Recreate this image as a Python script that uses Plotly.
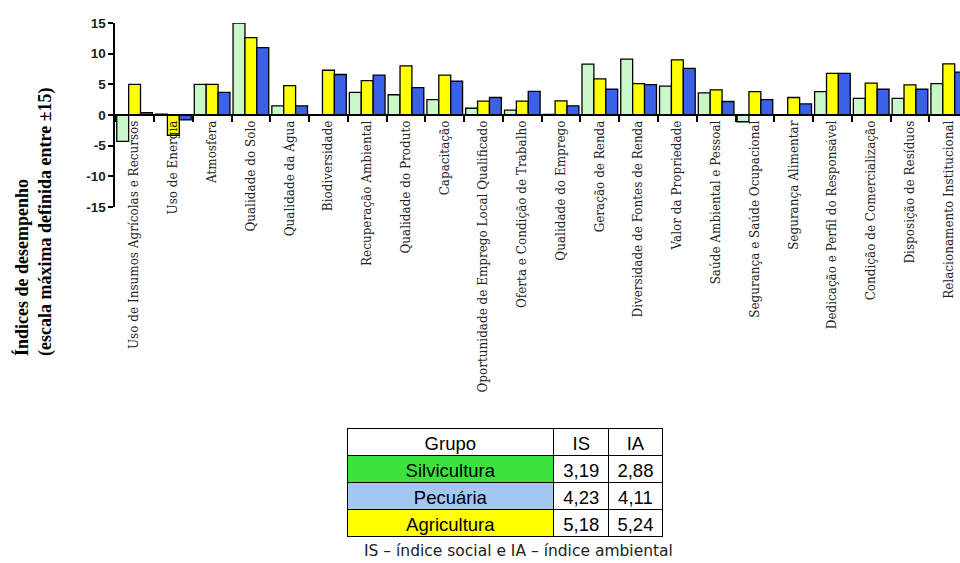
import plotly.graph_objects as go

categories = [
    "Uso de Insumos Agrícolas e Recursos",
    "Uso de Energia",
    "Atmosfera",
    "Qualidade do Solo",
    "Qualidade da Água",
    "Biodiversidade",
    "Recuperação Ambiental",
    "Qualidade do Produto",
    "Capacitação",
    "Oportunidade de Emprego Local Qualificado",
    "Oferta e Condição de Trabalho",
    "Qualidade do Emprego",
    "Geração de Renda",
    "Diversidade de Fontes de Renda",
    "Valor da Propriedade",
    "Saúde Ambiental e Pessoal",
    "Segurança e Saúde Ocupacional",
    "Segurança Alimentar",
    "Dedicação e Perfil do Responsável",
    "Condição de Comercialização",
    "Disposição de Resíduos",
    "Relacionamento Institucional",
]

silvicultura = [-4.3, 0.15, 5.0, 15.0, 1.5, 0.0, 3.7, 3.3, 2.5, 1.1, 0.8, 0.1, 8.3, 9.1,
                4.7, 3.6, -1.1, 0.0, 3.8, 2.7, 2.7, 5.1]
agricultura = [5.0, -3.3, 5.0, 12.6, 4.8, 7.3, 5.6, 8.0, 6.5, 2.25, 2.25, 2.3, 5.9, 5.1,
               9.0, 4.1, 3.8, 2.85, 6.8, 5.2, 4.9, 8.35]
pecuaria = [0.4, -0.8, 3.7, 11.0, 1.5, 6.6, 6.5, 4.45, 5.5, 2.85, 3.85, 1.5, 4.2, 4.95,
            7.6, 2.2, 2.5, 1.8, 6.8, 4.2, 4.2, 7.0]

y_ticks = [15, 10, 5, 0, -5, -10, -15]

grupos = ["Silvicultura", "Pecuária", "Agricultura"]
indice_social = ["3,19", "4,23", "5,18"]
indice_ambiental = ["2,88", "4,11", "5,24"]
grupo_colors = ["#3ee23e", "#a2c7f2", "#ffff00"]

W, H = 960, 563
x_left_px = 115.2
cat_w_px = 38.77
y_top_px, y_zero_px, y_bot_px = 23, 115, 207

fig = go.Figure()
series = [
    ("Silvicultura", silvicultura, "#c9f7c9"),
    ("Agricultura", agricultura, "#ffff00"),
    ("Pecuária", pecuaria, "#3b62e6"),
]
for name, vals, col in series:
    fig.add_trace(go.Bar(
        x=categories, y=vals, name=name,
        marker=dict(color=col, line=dict(color="black", width=1.3)),
        showlegend=False,
    ))

x_end = (W - x_left_px) / cat_w_px - 0.5

fig.add_trace(go.Table(
    domain=dict(x=[347 / W, 662 / W], y=[1 - 548 / H, 1 - 428 / H]),
    columnwidth=[206, 55, 53],
    header=dict(
        values=["Grupo", "IS", "IA"],
        fill_color="white",
        line=dict(color="black", width=1),
        font=dict(family="Liberation Sans, Arial", size=18.5, color="black"),
        align="center",
        height=27,
    ),
    cells=dict(
        values=[grupos, indice_social, indice_ambiental],
        fill_color=[grupo_colors, ["white"] * 3, ["white"] * 3],
        line=dict(color="black", width=1),
        font=dict(family="Liberation Sans, Arial", size=18.5, color="black"),
        align="center",
        height=27,
    ),
))

fig.update_layout(
    width=W, height=H, autosize=False,
    margin=dict(l=0, r=0, t=0, b=0),
    paper_bgcolor="white", plot_bgcolor="white",
    barmode="group", bargap=0.08, bargroupgap=0,
    xaxis=dict(
        domain=[x_left_px / W, 1.0],
        range=[-0.5, x_end],
        anchor="free", position=1 - y_zero_px / H,
        automargin=False,
        showline=True, linecolor="black", linewidth=1.5,
        ticks="outside", tickson="boundaries", ticklen=6, tickwidth=1.5, tickcolor="black",
        tickangle=-90,
        tickfont=dict(family="DejaVu Serif", size=12, color="#222222"),
        showgrid=False, zeroline=False, fixedrange=True,
    ),
    yaxis=dict(
        domain=[1 - y_bot_px / H, 1 - y_top_px / H],
        range=[-15, 15],
        automargin=False,
        tickvals=y_ticks,
        ticktext=[str(v) for v in y_ticks],
        showline=True, linecolor="black", linewidth=1.5,
        ticks="outside", ticklen=5, tickwidth=1.5, tickcolor="black",
        tickfont=dict(family="Liberation Sans, Arial", size=13.5, color="#222222", weight="bold"),
        showgrid=False, zeroline=False, anchor="x",
    ),
    annotations=[
        dict(
            text="<b>Índices de desempenho</b><br><b>(escala máxima definida entre ±15)</b>",
            xref="paper", yref="paper", x=33 / W, y=1 - 222 / H,
            xanchor="center", yanchor="middle",
            showarrow=False, textangle=-90, align="left",
            font=dict(family="Liberation Serif", size=18, color="black"),
        ),
        dict(
            text="IS – índice social e IA – índice ambiental",
            xref="paper", yref="paper", x=518 / W, y=1 - 551 / H,
            xanchor="center", yanchor="middle",
            showarrow=False,
            font=dict(family="DejaVu Sans", size=15.5, color="#222222"),
        ),
    ],
)

fig.write_html(
    "out.html",
    config={"displayModeBar": False},
    post_script="document.body.style.margin='0';document.body.style.overflow='hidden';",
)
